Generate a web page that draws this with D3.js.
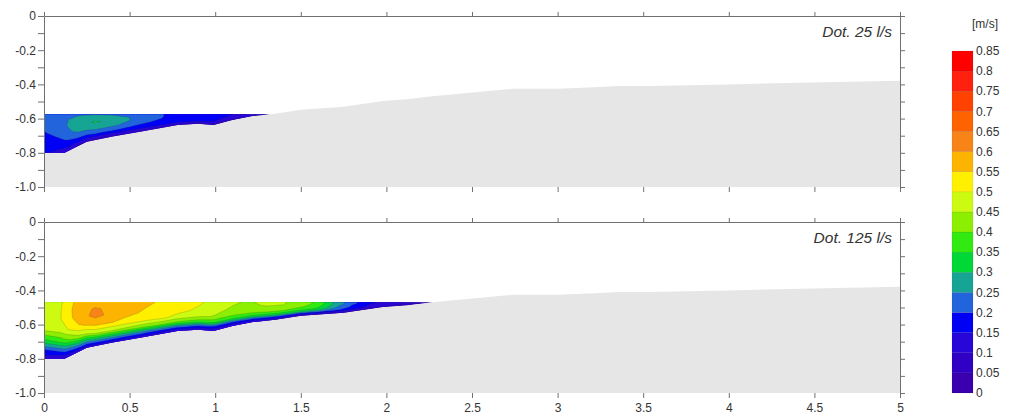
<!DOCTYPE html>
<html><head><meta charset="utf-8">
<script src="https://cdn.jsdelivr.net/npm/d3@7"></script>
<style>
body{margin:0;background:#fff}
svg{display:block}
text{font-family:"Liberation Sans",Arial,sans-serif;fill:#333}
</style>
</head><body>
<svg id="c" width="1024" height="418"></svg>
<script>
// ---------------- data ----------------
const xTicks = [0, 0.5, 1, 1.5, 2, 2.5, 3, 3.5, 4, 4.5, 5];
const xTickLabels = ["0", "0.5", "1", "1.5", "2", "2.5", "3", "3.5", "4", "4.5", "5"];
const yTicks = [0, -0.1, -0.2, -0.3, -0.4, -0.5, -0.6, -0.7, -0.8, -0.9, -1.0];
const yTickLabels = ["0", "", "-0.2", "", "-0.4", "", "-0.6", "", "-0.8", "", "-1.0"];

const legendValues = [0, 0.05, 0.1, 0.15, 0.2, 0.25, 0.3, 0.35, 0.4, 0.45, 0.5, 0.55, 0.6, 0.65, 0.7, 0.75, 0.8, 0.85];
const legendLabels = ["0", "0.05", "0.1", "0.15", "0.2", "0.25", "0.3", "0.35", "0.4", "0.45", "0.5", "0.55", "0.6", "0.65", "0.7", "0.75", "0.8", "0.85"];
const bandColors = ["#3a00b0", "#3000c4", "#2806d8", "#0000f5", "#2264dc", "#16a594", "#00d838", "#30ea10",
                    "#8cee00", "#ccfa10", "#fff000", "#fcb400", "#f88418", "#ff6200", "#ff4200", "#ff2010", "#ff0000"];

// channel bed profile (x [m], elevation [m])
const bedX = [0, 0.12, 0.25, 0.40, 0.56, 0.78, 0.90, 0.99, 1.10, 1.22, 1.35, 1.50, 1.75, 1.98, 2.12, 2.27, 2.66, 2.75, 3.0, 3.25, 3.35, 3.54, 4.0, 4.42, 5.0];
const bedY = [-0.80, -0.80, -0.735, -0.705, -0.677, -0.637, -0.630, -0.637, -0.608, -0.585, -0.572, -0.548, -0.530, -0.497, -0.487, -0.470, -0.433, -0.425, -0.425, -0.415, -0.410, -0.410, -0.400, -0.390, -0.378];

// relative depth rows (0 = water surface, 1 = bed)
const sigmaRows = [0, 0.15, 0.3, 0.5, 0.7, 0.85, 1];

// Dot. 25 l/s
const surface25 = -0.575;
const gridX25 = [0, 0.1, 0.2, 0.3, 0.4, 0.5, 0.6, 0.7, 0.8, 0.9, 1.0, 1.1, 1.2, 1.3, 1.4];
const vel25 = [
  [0.215, 0.225, 0.240, 0.245, 0.240, 0.225, 0.210, 0.200, 0.190, 0.178, 0.165, 0.150, 0.135, 0.115, 0.095],
  [0.215, 0.235, 0.270, 0.285, 0.278, 0.248, 0.215, 0.200, 0.188, 0.176, 0.163, 0.148, 0.133, 0.113, 0.095],
  [0.210, 0.235, 0.280, 0.305, 0.288, 0.252, 0.215, 0.198, 0.183, 0.172, 0.160, 0.145, 0.130, 0.110, 0.095],
  [0.195, 0.220, 0.265, 0.272, 0.260, 0.232, 0.203, 0.185, 0.175, 0.165, 0.155, 0.140, 0.125, 0.105, 0.090],
  [0.180, 0.190, 0.215, 0.225, 0.210, 0.190, 0.175, 0.165, 0.160, 0.155, 0.148, 0.135, 0.120, 0.105, 0.090],
  [0.170, 0.165, 0.160, 0.155, 0.150, 0.145, 0.140, 0.140, 0.135, 0.130, 0.125, 0.115, 0.105, 0.095, 0.085],
  [0.160, 0.120, 0.090, 0.080, 0.080, 0.080, 0.080, 0.080, 0.080, 0.075, 0.070, 0.070, 0.070, 0.065, 0.060]
];

// Dot. 125 l/s
const surface125 = -0.47;
const gridX125 = [0, 0.1, 0.2, 0.3, 0.4, 0.5, 0.6, 0.7, 0.8, 0.9, 1.0, 1.1, 1.2, 1.3, 1.4, 1.5, 1.6, 1.7, 1.8, 1.9, 2.0, 2.1, 2.2, 2.3];
const vel125 = [
  [0.480, 0.495, 0.570, 0.580, 0.585, 0.580, 0.560, 0.540, 0.530, 0.510, 0.480, 0.455, 0.445, 0.465, 0.455, 0.430, 0.390, 0.290, 0.220, 0.160, 0.140, 0.120, 0.100, 0.090],
  [0.490, 0.500, 0.580, 0.605, 0.590, 0.575, 0.550, 0.535, 0.520, 0.500, 0.475, 0.450, 0.440, 0.455, 0.450, 0.420, 0.385, 0.285, 0.215, 0.155, 0.135, 0.115, 0.100, 0.090],
  [0.485, 0.500, 0.575, 0.615, 0.585, 0.560, 0.540, 0.525, 0.510, 0.490, 0.465, 0.440, 0.430, 0.440, 0.430, 0.410, 0.370, 0.270, 0.200, 0.150, 0.130, 0.110, 0.095, 0.085],
  [0.450, 0.470, 0.540, 0.565, 0.550, 0.530, 0.515, 0.505, 0.480, 0.460, 0.445, 0.420, 0.410, 0.410, 0.400, 0.380, 0.340, 0.250, 0.190, 0.140, 0.120, 0.100, 0.090, 0.080],
  [0.320, 0.360, 0.430, 0.460, 0.450, 0.430, 0.410, 0.400, 0.385, 0.370, 0.360, 0.345, 0.335, 0.330, 0.320, 0.300, 0.270, 0.210, 0.165, 0.130, 0.110, 0.095, 0.085, 0.075],
  [0.190, 0.220, 0.270, 0.285, 0.275, 0.255, 0.240, 0.230, 0.220, 0.210, 0.200, 0.195, 0.190, 0.185, 0.180, 0.170, 0.160, 0.145, 0.125, 0.110, 0.100, 0.090, 0.080, 0.070],
  [0.120, 0.100, 0.110, 0.110, 0.110, 0.100, 0.100, 0.100, 0.100, 0.100, 0.100, 0.100, 0.100, 0.100, 0.095, 0.090, 0.090, 0.080, 0.080, 0.070, 0.070, 0.060, 0.060, 0.050]
];

const panels = [
  {top: 16,  surface: surface25,  title: "Dot. 25 l/s",  gridX: gridX25,  vel: vel25,  xLabels: false},
  {top: 222, surface: surface125, title: "Dot. 125 l/s", gridX: gridX125, vel: vel125, xLabels: true}
];

// ---------------- drawing ----------------
const svg = d3.select("#c");
const x = d3.scaleLinear().domain([0, 5]).range([44, 900]);
const bedAt = d3.scaleLinear().domain(bedX).range(bedY);
const bedPts = bedX.map((bx, i) => [bx, bedY[i]]);
const thresholds = legendValues.slice(0, legendValues.length - 1);
const axisColor = "#707070";

panels.forEach((p, pi) => {
  const y = d3.scaleLinear().domain([0, -1]).range([p.top, p.top + 171]);
  const g = svg.append("g");

  // grey bed area
  g.append("path")
    .attr("d", d3.area().x(d => x(d[0])).y0(y(-1)).y1(d => y(d[1]))(bedPts))
    .attr("fill", "#e6e6e6");

  // flow region (between water surface and bed)
  let xEnd = 5;
  for (let i = 0; i < bedX.length - 1; i++) {
    if (bedY[i] <= p.surface && bedY[i + 1] >= p.surface) {
      xEnd = bedX[i] + (p.surface - bedY[i]) / (bedY[i + 1] - bedY[i]) * (bedX[i + 1] - bedX[i]);
      break;
    }
  }
  const region = [[0, p.surface], [xEnd, p.surface]];
  for (let i = bedX.length - 1; i >= 0; i--) if (bedX[i] < xEnd) region.push([bedX[i], bedY[i]]);
  const clipId = "clip" + pi;
  svg.append("clipPath").attr("id", clipId).append("path")
    .attr("d", d3.line().x(d => x(d[0])).y(d => y(d[1]))(region) + "Z");

  // velocity contours on a bed-following grid
  const nx = p.gridX.length, ny = sigmaRows.length;
  const values = [];
  for (let j = 0; j < ny; j++) for (let i = 0; i < nx; i++) values.push(p.vel[j][i]);
  const gx = d3.scaleLinear().domain([0.5, nx - 0.5]).range([p.gridX[0], p.gridX[nx - 1]]);
  const gy = d3.scaleLinear().domain(sigmaRows.map((_, j) => j + 0.5)).range(sigmaRows);
  const toScreen = (pt) => {
    const xv = gx(pt[0]), s = gy(pt[1]);
    const yv = p.surface + s * (bedAt(xv) - p.surface);
    return [x(xv), y(yv)];
  };
  const ringPath = (ring) => {
    const out = [];
    for (let k = 0; k < ring.length - 1; k++) {
      const a = ring[k], b = ring[k + 1];
      for (let t = 0; t < 4; t++) out.push(toScreen([a[0] + (b[0] - a[0]) * t / 4, a[1] + (b[1] - a[1]) * t / 4]));
    }
    return "M" + out.map(q => q[0].toFixed(2) + "," + q[1].toFixed(2)).join("L") + "Z";
  };
  const contours = d3.contours().size([nx, ny]).thresholds(thresholds)(values);
  const cg = g.append("g").attr("clip-path", `url(#${clipId})`);
  cg.selectAll("path").data(contours).join("path")
    .attr("d", c => c.coordinates.map(poly => poly.map(ringPath).join("")).join(""))
    .attr("fill", c => bandColors[thresholds.indexOf(c.value)])
    .attr("fill-rule", "evenodd")
    .attr("stroke", (c, i) => i === 0 ? "none" : "rgba(40,40,40,0.28)")
    .attr("stroke-width", 0.6);

  // axes
  const styleAxis = (sel) => {
    sel.selectAll("line").attr("stroke", axisColor);
    sel.selectAll(".domain").attr("stroke", axisColor);
    sel.selectAll("text").attr("fill", "#333").style("font-size", "12px")
      .style("font-family", '"Liberation Sans", Arial, sans-serif');
  };
  g.append("g").attr("transform", `translate(${x(0)},0)`)
    .call(d3.axisLeft(y).tickValues(yTicks).tickSize(6).tickSizeOuter(0).tickPadding(2)
      .tickFormat((d, i) => yTickLabels[i]))
    .call(styleAxis);
  g.append("g").attr("transform", `translate(${x(5)},0)`)
    .call(d3.axisRight(y).tickValues(yTicks).tickSize(5).tickSizeOuter(0).tickFormat(""))
    .call(styleAxis);
  g.append("g").attr("transform", `translate(0,${y(0)})`)
    .call(d3.axisTop(x).tickValues(xTicks).tickSize(4).tickSizeOuter(0).tickFormat(""))
    .call(styleAxis);
  const bx = g.append("g").attr("transform", `translate(0,${y(-1)})`)
    .call(d3.axisBottom(x).tickValues(xTicks).tickSize(5).tickSizeOuter(0).tickPadding(5)
      .tickFormat((d, i) => p.xLabels ? xTickLabels[i] : ""))
    .call(styleAxis);
  bx.select(".domain").attr("stroke", "none");

  // title
  g.append("text")
    .attr("x", 892).attr("y", p.top + 21)
    .attr("text-anchor", "end")
    .style("font-style", "italic").style("font-size", "15.5px")
    .attr("fill", "#222")
    .text(p.title);
});

// ---------------- colour bar ----------------
const cb = d3.scaleLinear().domain([0, 0.85]).range([393, 51]);
const lg = svg.append("g");
lg.selectAll("rect").data(thresholds).join("rect")
  .attr("x", 952).attr("width", 21)
  .attr("y", d => cb(d + 0.05)).attr("height", d => cb(d) - cb(d + 0.05))
  .attr("fill", (d, i) => bandColors[i])
  .attr("stroke", "rgba(0,0,0,0.15)").attr("stroke-width", 0.5);
lg.selectAll("text.lab").data(legendValues).join("text")
  .attr("class", "lab")
  .attr("x", 976).attr("y", d => cb(d)).attr("dy", "0.35em")
  .style("font-size", "12px")
  .text((d, i) => legendLabels[i]);
lg.append("text").attr("x", 972).attr("y", 28).style("font-size", "12px").text("[m/s]");
</script>
</body></html>
